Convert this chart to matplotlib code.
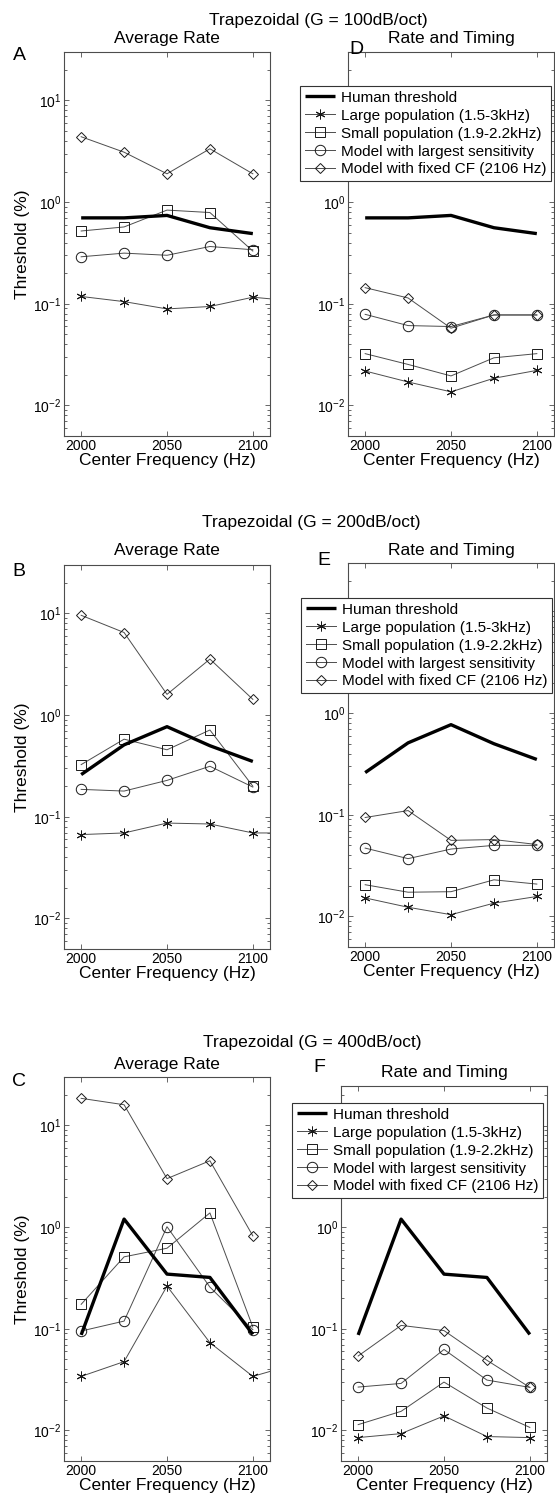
import matplotlib
matplotlib.use("Agg")
import matplotlib.pyplot as plt

plt.rcParams['font.family'] = ['Liberation Sans', 'DejaVu Sans']
plt.rcParams['mathtext.default'] = 'regular'

# === Dati ===
freqs = [2000, 2025, 2050, 2075, 2100]
freqs_ext = [2000, 2025, 2050, 2075, 2100, 2125]   # large pop continua oltre il bordo

human_100 = [0.70, 0.70, 0.74, 0.56, 0.49]
human_200 = [0.26, 0.51, 0.77, 0.50, 0.35]
human_400 = [0.087, 1.2, 0.345, 0.32, 0.088]

# A - average rate, 100 dB/oct
rate100_large = [0.118, 0.105, 0.089, 0.094, 0.116, 0.106]
rate100_small = [0.52, 0.57, 0.835, 0.79, 0.33]
rate100_best = [0.29, 0.315, 0.30, 0.366, 0.34]
rate100_fixed = [4.4, 3.1, 1.9, 3.35, 1.9]

# D - rate and timing, 100 dB/oct
timing100_large = [0.0218, 0.017, 0.0136, 0.0185, 0.0221]
timing100_small = [0.0323, 0.0253, 0.0195, 0.0294, 0.0323]
timing100_best = [0.0787, 0.061, 0.0597, 0.0776, 0.0776]
timing100_fixed = [0.144, 0.114, 0.0575, 0.0776, 0.0776]

# B - average rate, 200 dB/oct
rate200_large = [0.0668, 0.0693, 0.0867, 0.0849, 0.0693, 0.0693]
rate200_small = [0.326, 0.58, 0.456, 0.714, 0.20]
rate200_best = [0.186, 0.179, 0.228, 0.314, 0.196]
rate200_fixed = [9.6, 6.5, 1.6, 3.56, 1.43]

# E - rate and timing, 200 dB/oct
timing200_large = [0.0152, 0.0123, 0.0104, 0.0135, 0.0157]
timing200_small = [0.0205, 0.0173, 0.0175, 0.0229, 0.0208]
timing200_best = [0.047, 0.037, 0.046, 0.050, 0.050]
timing200_fixed = [0.094, 0.110, 0.056, 0.057, 0.051]

# C - average rate, 400 dB/oct
rate400_large = [0.034, 0.0475, 0.263, 0.073, 0.034, 0.045]
rate400_small = [0.174, 0.51, 0.62, 1.38, 0.104]
rate400_best = [0.095, 0.119, 1.01, 0.257, 0.098]
rate400_fixed = [18.5, 16.0, 3.0, 4.5, 0.82]

# F - rate and timing, 400 dB/oct
timing400_large = [0.0085, 0.0093, 0.0139, 0.0087, 0.0085]
timing400_small = [0.0114, 0.0154, 0.0299, 0.0166, 0.0107]
timing400_best = [0.0267, 0.029, 0.0626, 0.0313, 0.0265]
timing400_fixed = [0.054, 0.108, 0.096, 0.049, 0.0265]

row_titles = ['Trapezoidal (G = 100dB/oct)', 'Trapezoidal (G = 200dB/oct)',
              'Trapezoidal (G = 400dB/oct)']
legend_labels = ['Human threshold', 'Large population (1.5-3kHz)',
                 'Small population (1.9-2.2kHz)', 'Model with largest sensitivity',
                 'Model with fixed CF (2106 Hz)']

W, H = 555, 1502
fig = plt.figure(figsize=(W / 100, H / 100), dpi=100)


def fx(x):
    return x / W


def fy(y):
    return 1 - y / H


def add_axes(left, top, right, bottom):
    return fig.add_axes([fx(left), fy(bottom), (right - left) / W, (bottom - top) / H])


def draw_panel(ax, human, large, small, best, fixed, xlarge, ytop=30, hide_top_label=False):
    thin = dict(color='0.3', lw=0.7, mec='0.1', mfc='none', mew=0.7)
    l1, = ax.plot(xlarge, large, marker=(6, 2, 0), ms=7, **thin)
    l2, = ax.plot(freqs, small, marker='s', ms=6.5, **thin)
    l3, = ax.plot(freqs, best, marker='o', ms=7.5, **thin)
    l4, = ax.plot(freqs, fixed, marker='D', ms=5.5, **thin)
    l0, = ax.plot(freqs, human, color='black', lw=2.4, solid_capstyle='butt')
    ax.set_yscale('log')
    ax.set_xlim(1990, 2110)
    ax.set_ylim(0.005, ytop)
    ax.set_xticks([2000, 2050, 2100])
    ax.set_yticks([1e-2, 1e-1, 1e0, 1e1])
    # la legenda copre l'etichetta 10^1 nei pannelli di destra
    top_lab = '' if hide_top_label else r'$10^{1}$'
    ax.set_yticklabels([r'$10^{-2}$', r'$10^{-1}$', r'$10^{0}$', top_lab])
    ax.tick_params(which='both', direction='in', top=True, right=True,
                   labelsize=10, color='0.3', width=0.6)
    ax.tick_params(which='major', length=3.5, pad=2)
    ax.tick_params(which='minor', length=2)
    for s in ax.spines.values():
        s.set_color('0.3')
        s.set_linewidth(0.8)
    ax.set_xlabel('Center Frequency (Hz)', fontsize=12.5, labelpad=0)
    return [l0, l1, l2, l3, l4]


rows = [
    dict(top=52, bottom=436, title_y=21, title_x=318, sub_y=38,
         right_box=(348, 52, 554, 436, 30), right_sub=(451, 38),
         left_lab=('A', 55), right_lab=('D', 356, 49), leg=(300, 86),
         rate=(human_100, rate100_large, rate100_small, rate100_best, rate100_fixed),
         timing=(human_100, timing100_large, timing100_small, timing100_best, timing100_fixed)),
    dict(top=565, bottom=949, title_y=522, title_x=311, sub_y=551,
         right_box=(348, 563, 554, 947, 30), right_sub=(451, 550),
         left_lab=('B', 571), right_lab=('E', 324, 560), leg=(301, 598),
         rate=(human_200, rate200_large, rate200_small, rate200_best, rate200_fixed),
         timing=(human_200, timing200_large, timing200_small, timing200_best, timing200_fixed)),
    dict(top=1077, bottom=1461, title_y=1042, title_x=312, sub_y=1064,
         right_box=(341, 1086, 547, 1461, 24.5), right_sub=(444, 1073),
         left_lab=('C', 1081), right_lab=('F', 319, 1067), leg=(292, 1103),
         rate=(human_400, rate400_large, rate400_small, rate400_best, rate400_fixed),
         timing=(human_400, timing400_large, timing400_small, timing400_best, timing400_fixed)),
]

for i, r in enumerate(rows):
    axl = add_axes(64, r['top'], 270, r['bottom'])
    rl, rt, rr, rb, ytop = r['right_box']
    axr = add_axes(rl, rt, rr, rb)
    draw_panel(axl, *r['rate'], xlarge=freqs_ext)
    handles = draw_panel(axr, *r['timing'], xlarge=freqs, ytop=ytop, hide_top_label=True)
    axl.set_ylabel('Threshold (%)', fontsize=12.5, labelpad=2)

    fig.text(fx(r['title_x']), fy(r['title_y']), row_titles[i], fontsize=12.5,
             ha='center', va='center')
    fig.text(fx(167), fy(r['sub_y']), 'Average Rate', fontsize=12.5,
             ha='center', va='center')
    fig.text(fx(r['right_sub'][0]), fy(r['right_sub'][1]), 'Rate and Timing',
             fontsize=12.5, ha='center', va='center')
    fig.text(fx(19), fy(r['left_lab'][1]), r['left_lab'][0], fontsize=14,
             ha='center', va='center')
    lab, lx, ly = r['right_lab']
    fig.text(fx(lx), fy(ly), lab, fontsize=14, ha='center', va='center')

    leg = axr.legend(handles, legend_labels, loc='upper left',
                     bbox_to_anchor=(fx(r['leg'][0]), fy(r['leg'][1])),
                     bbox_transform=fig.transFigure, fontsize=11,
                     frameon=True, fancybox=False, framealpha=1,
                     edgecolor='0.2', borderpad=0.3, labelspacing=0.26,
                     handlelength=2.0, handletextpad=0.4, borderaxespad=0)
    leg.get_frame().set_linewidth(0.8)

fig.savefig('out.png', dpi=100)
